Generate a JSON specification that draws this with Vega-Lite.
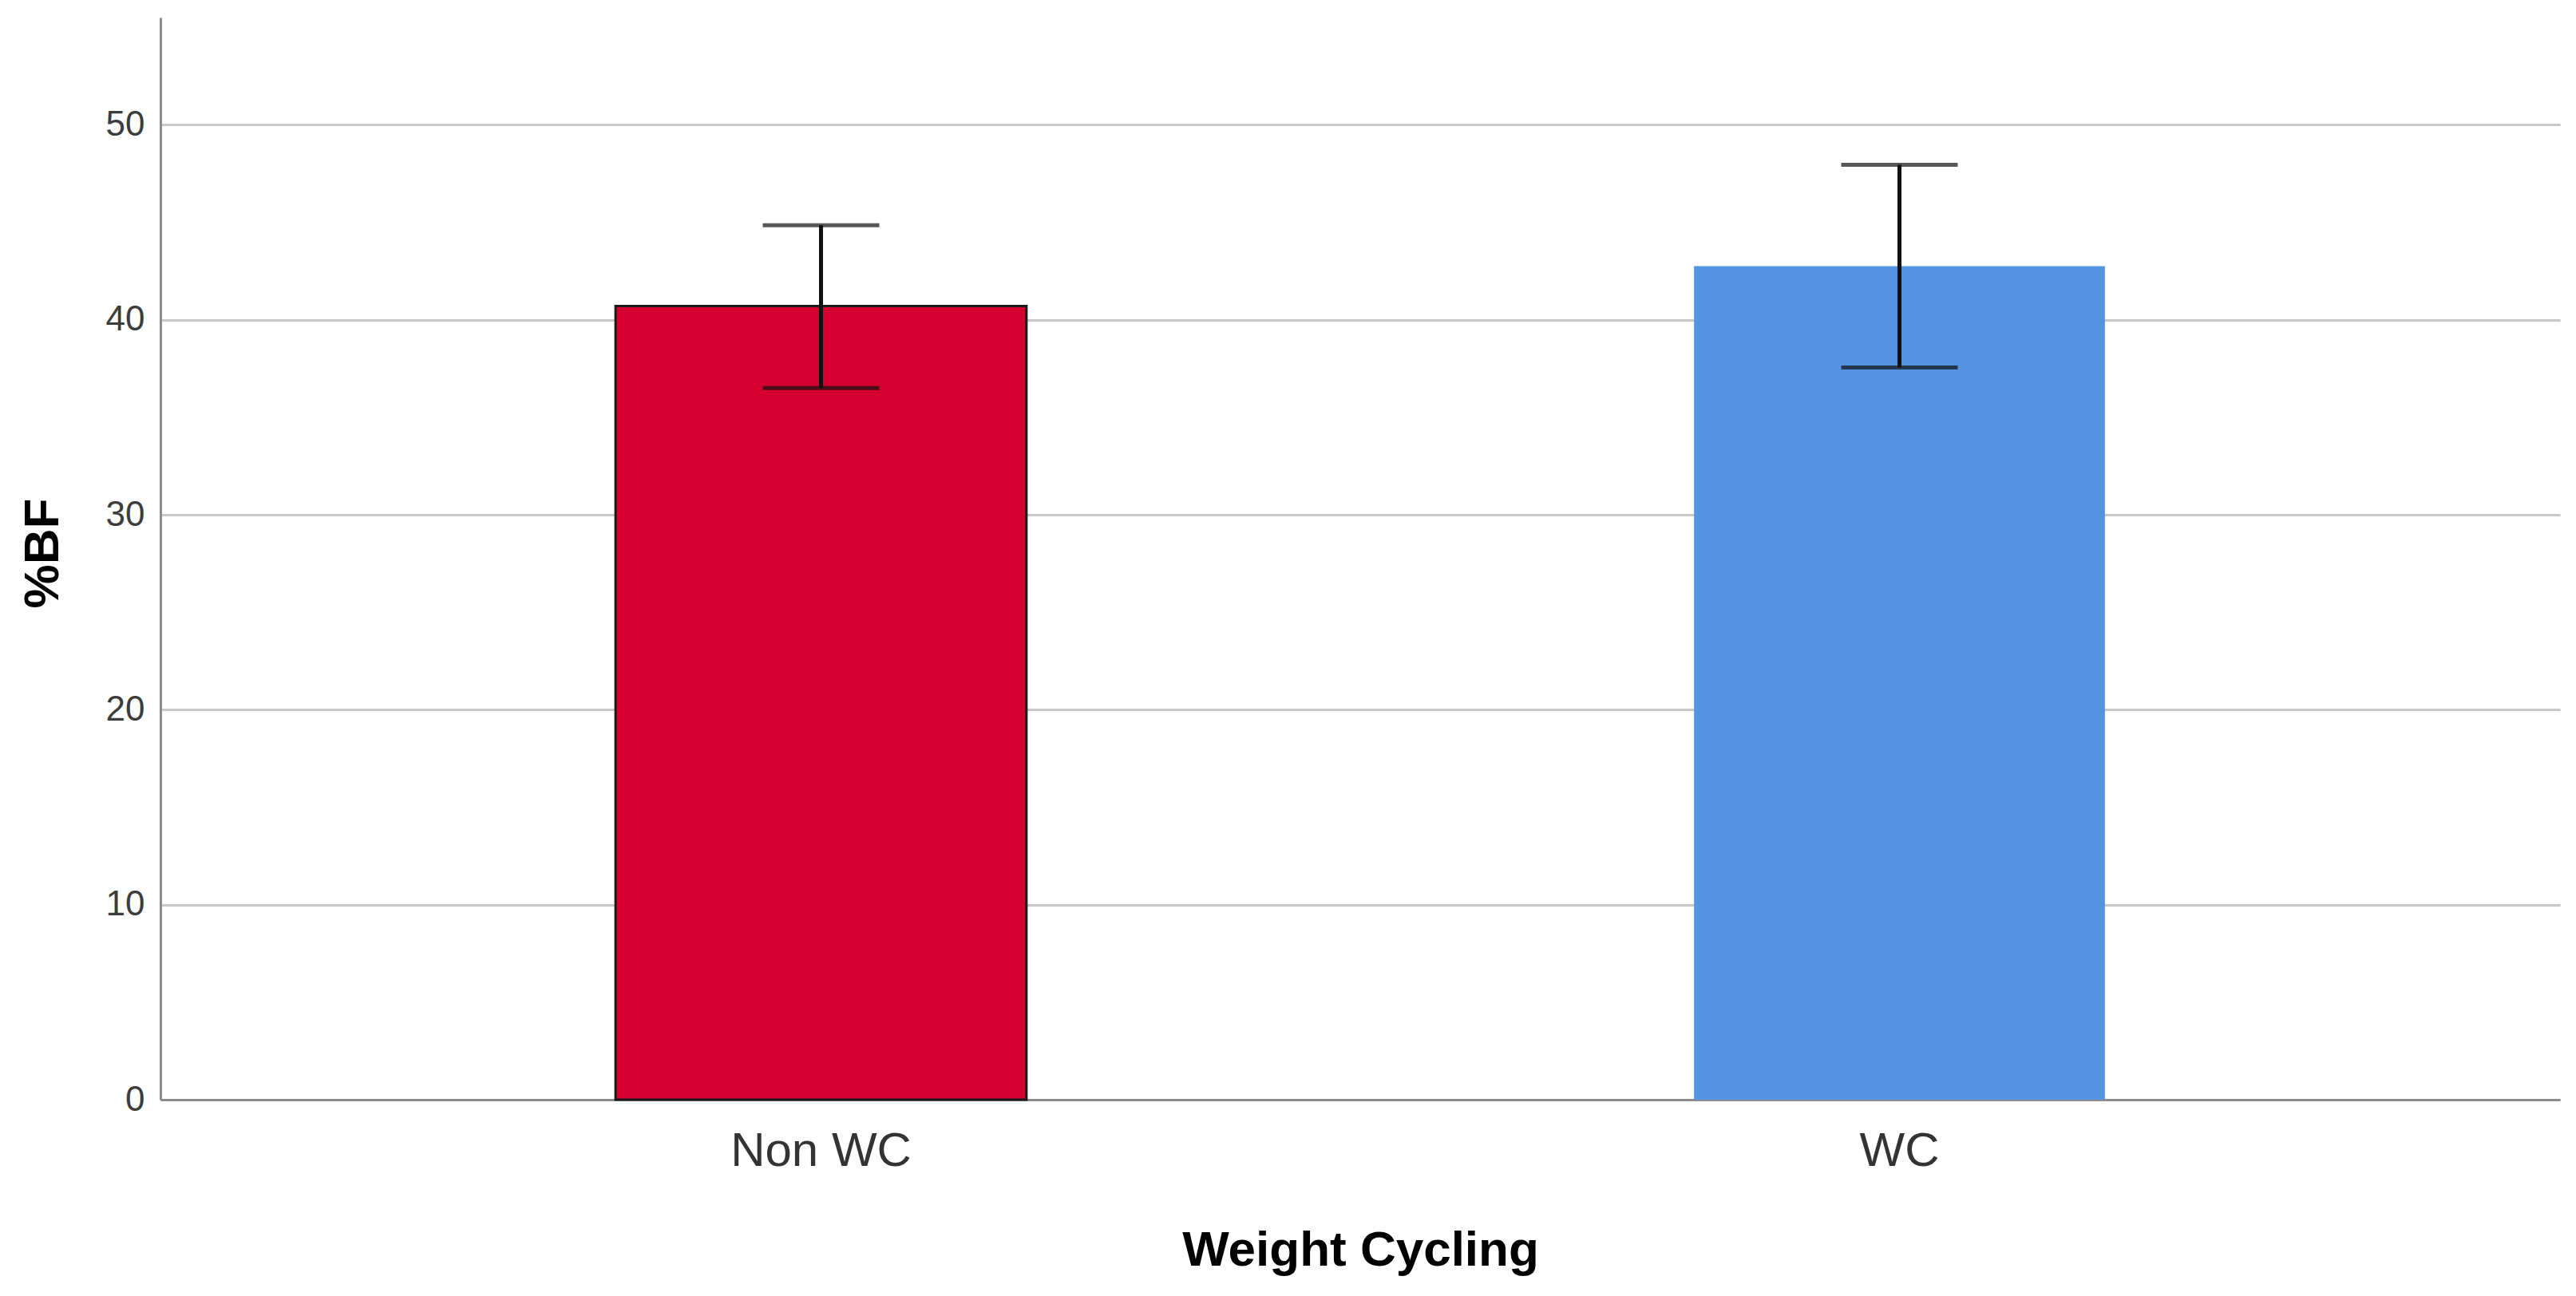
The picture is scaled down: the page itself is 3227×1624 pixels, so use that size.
{
  "$schema": "https://vega.github.io/schema/vega-lite/v6.json",
  "autosize": {"type": "none"},
  "width": 3006,
  "height": 1356,
  "padding": {"left": 201, "top": 22, "right": 20, "bottom": 246},
  "background": "white",
  "config": {
    "view": {"stroke": null},
    "font": "Liberation Sans"
  },
  "data": {
    "values": [
      {"group": "Non WC", "mean": 40.7, "lower": 36.5, "upper": 44.85},
      {"group": "WC", "mean": 42.75, "lower": 37.55, "upper": 47.95}
    ]
  },
  "encoding": {
    "x": {
      "field": "group",
      "type": "nominal",
      "sort": ["Non WC", "WC"],
      "scale": {"paddingInner": 0.619, "paddingOuter": 0.422},
      "axis": {
        "title": "Weight Cycling",
        "titleFont": "Liberation Sans",
        "titleFontWeight": "bold",
        "titleFontSize": 62,
        "titleColor": "#000000",
        "titleBaseline": "alphabetic",
        "titleAlign": "center",
        "titleX": 1503,
        "titleY": 207,
        "labelFont": "Liberation Sans",
        "labelFontSize": 60,
        "labelColor": "#333333",
        "labelAngle": 0,
        "labelLimit": 0,
        "labelPadding": 35,
        "ticks": false,
        "domainColor": "#8c8c8c",
        "domainWidth": 3,
        "grid": false
      }
    }
  },
  "layer": [
    {
      "mark": {"type": "bar", "strokeWidth": 3},
      "encoding": {
        "y": {
          "field": "mean",
          "type": "quantitative",
          "scale": {"domain": [0, 55.5], "nice": false, "zero": true},
          "axis": {
            "title": "%BF",
            "titleFont": "Liberation Sans",
            "titleFontWeight": "bold",
            "titleFontSize": 62,
            "titleColor": "#000000",
            "titleAngle": -90,
            "titleBaseline": "alphabetic",
            "titleAlign": "center",
            "titleX": -129,
            "titleY": 671,
            "values": [0, 10, 20, 30, 40, 50],
            "labelFont": "Liberation Sans",
            "labelFontSize": 44,
            "labelColor": "#3c3c3c",
            "labelPadding": 20,
            "ticks": false,
            "domainColor": "#8c8c8c",
            "domainWidth": 3,
            "grid": true,
            "gridColor": "#c8c8c8",
            "gridWidth": 3
          }
        },
        "fill": {
          "field": "group",
          "type": "nominal",
          "scale": {"domain": ["Non WC", "WC"], "range": ["#d50030", "#5594e3"]},
          "legend": null
        },
        "stroke": {
          "field": "group",
          "type": "nominal",
          "scale": {"domain": ["Non WC", "WC"], "range": ["#1a1a1a", "rgba(0,0,0,0)"]},
          "legend": null
        }
      }
    },
    {
      "mark": {"type": "rule", "color": "#111111", "strokeWidth": 5},
      "encoding": {
        "y": {"field": "lower", "type": "quantitative"},
        "y2": {"field": "upper"}
      }
    },
    {
      "mark": {"type": "tick", "color": "#111111", "size": 146, "thickness": 5, "orient": "horizontal"},
      "encoding": {
        "y": {"field": "upper", "type": "quantitative"}
      }
    },
    {
      "mark": {"type": "tick", "color": "#111111", "size": 146, "thickness": 5, "orient": "horizontal"},
      "encoding": {
        "y": {"field": "lower", "type": "quantitative"}
      }
    }
  ]
}
